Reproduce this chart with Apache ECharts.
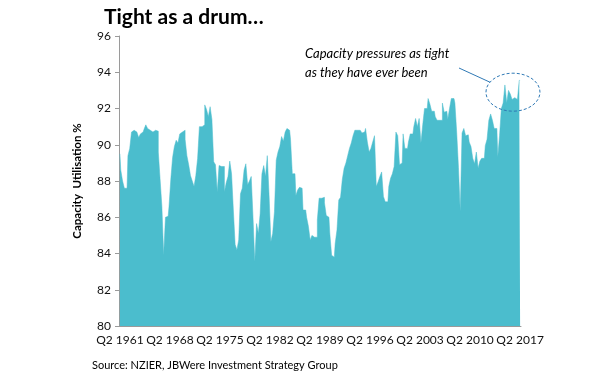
<!DOCTYPE html>
<html>
<head>
<meta charset="utf-8">
<script src="https://cdn.jsdelivr.net/npm/echarts@6/dist/echarts.min.js"></script>
<style>
  html, body { margin: 0; padding: 0; background: #fff; }
  #main { width: 600px; height: 376px; }
</style>
</head>
<body>
<div id="main"></div>
<script>
// quarterly capacity utilisation, Q2 1961 .. Q2 2017 (225 quarters)
const startYear = 1961;
const startQuarter = 2;
const utilisation = [
  // 1961-1968
  89.5, 88.6, 88.0, 87.6, 87.6, 89.4, 89.8, 90.7, 90.8, 90.7, 90.6, 90.4, 90.6, 90.7, 90.85, 91.1,
  90.9, 90.8, 90.7, 90.6, 90.8, 90.75, 89.6, 88.1, 86.6, 83.9, 86.0, 86.05, 86.6, 88.1, 89.3,
  // 1969-1976
  89.9, 90.25, 90.1, 90.6, 90.7, 90.8, 90.3, 89.4, 88.9, 88.3, 88.0, 87.7, 88.3, 89.25, 91.0, 91.0,
  91.1, 92.2, 91.95, 91.55, 92.1, 91.4, 89.06, 88.9, 87.4, 88.85, 88.8, 88.8, 87.4, 87.9, 88.25, 89.1, 88.4,
  // 1977-1984
  86.4, 84.5, 84.2, 84.75, 87.3, 87.6, 88.6, 88.95, 87.8, 88.0, 88.25, 86.0, 83.55, 85.65, 85.1, 86.2,
  88.4, 88.85, 88.25, 89.4, 87.2, 84.65, 85.1, 86.3, 89.15, 89.6, 89.9, 90.45, 90.2, 90.7, 90.9, 90.8,
  // 1985-1992
  90.3, 88.4, 88.4, 87.2, 87.5, 87.65, 87.6, 86.4, 86.4, 86.0, 85.5, 84.75, 85.0, 84.9, 84.9, 85.85,
  87.05, 87.05, 87.1, 86.8, 86.1, 86.0, 85.1, 83.9, 83.8, 84.55, 85.3, 86.95, 87.1, 88.1, 88.7, 89.0,
  // 1993-2001
  89.4, 89.8, 90.1, 90.5, 90.8, 90.8, 90.8, 90.7, 90.65, 90.7, 90.9, 90.15, 89.6, 89.8, 90.15, 90.5,
  87.7, 87.95, 88.25, 88.5, 87.15, 86.85, 86.85, 87.7, 88.15, 88.4, 88.8, 90.7, 90.5, 88.9, 89.0, 90.6,
  89.8, 89.8,
  // 2001-2009
  90.15, 90.6, 90.6, 91.0, 91.45, 91.0, 91.45, 90.1, 91.1, 92.0, 92.0, 92.55, 92.25, 91.85, 91.85, 91.55,
  91.35, 91.35, 91.35, 92.3, 91.8, 91.85, 91.4, 92.0, 92.55, 92.55, 92.3, 90.7, 88.75, 86.3, 90.65,
  // 2009-2017
  90.9, 90.5, 90.55, 90.15, 89.9, 89.25, 88.95, 89.6, 88.7, 89.1, 89.25, 89.25, 89.95, 90.3, 91.35, 91.7,
  91.35, 90.9, 90.9, 89.33, 90.5, 92.0, 92.3, 93.3, 92.3, 93.0, 92.8, 92.5, 92.6, 92.5, 92.4, 93.55
];
const yTicks = { min: 80, max: 96, step: 2 };
const labelEvery = 28; // one label every 7 years

const quarters = utilisation.map((_, i) => {
  const q = startQuarter - 1 + i;
  return 'Q' + ((q % 4) + 1) + ' ' + (startYear + Math.floor(q / 4));
});

const barColor = '#4bbdcd';
const chart = echarts.init(document.getElementById('main'), null, { renderer: 'canvas' });

const option = {
  animation: false,
  textStyle: { fontFamily: 'Lato' },
  title: {
    text: 'Tight as a drum…',
    left: 99,
    top: 2,
    textStyle: { fontFamily: 'Lato', fontSize: 21, fontWeight: 'bold', color: '#000' },
  },
  grid: { left: 119, right: 79, top: 36, bottom: 50 },
  xAxis: {
    type: 'category',
    data: quarters,
    boundaryGap: true,
    axisLine: { lineStyle: { color: '#9a9a9a', width: 1 } },
    axisTick: {
      alignWithLabel: true,
      interval: labelEvery - 1,
      length: 4,
      lineStyle: { color: '#9a9a9a' },
    },
    axisLabel: {
      interval: labelEvery - 1,
      color: '#111',
      fontSize: 12,
      margin: 8,
    },
  },
  yAxis: {
    type: 'value',
    min: yTicks.min,
    max: yTicks.max,
    interval: yTicks.step,
    name: 'Capacity  Utilisation %',
    nameLocation: 'middle',
    nameRotate: 90,
    nameGap: 36,
    nameTextStyle: { fontSize: 11.5, fontWeight: 'bold', color: '#000' },
    axisLine: { show: true, lineStyle: { color: '#9a9a9a', width: 1 } },
    axisTick: { show: true, length: 4, lineStyle: { color: '#9a9a9a' } },
    axisLabel: { color: '#111', fontSize: 12, margin: 8 },
    splitLine: { show: false },
  },
  series: [
    {
      // contiguous columns drawn as a stepped area (steps at the band edges), no seams
      type: 'line',
      data: utilisation,
      step: 'middle',
      showSymbol: false,
      lineStyle: { color: barColor, width: 0.5 },
      areaStyle: { color: barColor, opacity: 1, origin: 'start' },
      z: 1,
    },
  ],
};

chart.setOption(option);

// annotation placed relative to the last quarters
const c = chart.convertToPixel({ seriesIndex: 0 }, [utilisation.length - 5, 92.9]);
chart.setOption({
  graphic: [
    {
      type: 'text',
      left: 305,
      top: 44,
      style: {
        text: 'Capacity pressures as tight\nas they have ever been',
        font: 'italic 13px Lato',
        fill: '#000',
        lineHeight: 19,
      },
    },
    {
      type: 'ellipse',
      shape: { cx: c[0], cy: c[1], rx: 27, ry: 19 },
      style: { fill: 'none', stroke: '#2f79b5', lineWidth: 1, lineDash: [3, 2] },
      z: 10,
    },
    {
      type: 'line',
      shape: { x1: 459, y1: 68, x2: c[0] - 23, y2: c[1] - 10 },
      style: { stroke: '#2f79b5', lineWidth: 1 },
      z: 10,
    },
    {
      type: 'text',
      left: 92,
      top: 360,
      style: { text: 'Source: NZIER, JBWere Investment Strategy Group', font: '11px Lato', fill: '#000' },
    },
  ],
});
</script>
</body>
</html>
